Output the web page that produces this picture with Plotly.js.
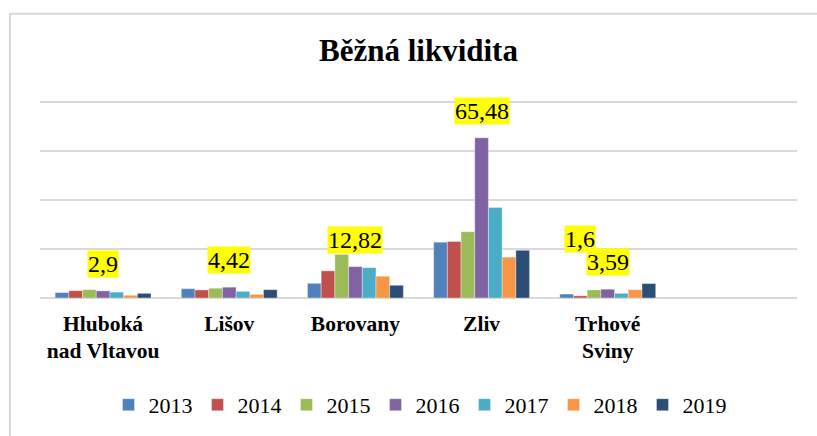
<!DOCTYPE html>
<html>
<head>
<meta charset="utf-8">
<script src="https://cdn.plot.ly/plotly-3.0.1.min.js"></script>
<style>
html,body{margin:0;padding:0;background:#fff;}
#chart{width:817px;height:436px;}
</style>
</head>
<body>
<div id="chart"></div>
<script>
const categories = ["Hluboká<br>nad Vltavou", "Lišov", "Borovany", "Zliv", "Trhové<br>Sviny"];
const years = ["2013", "2014", "2015", "2016", "2017", "2018", "2019"];
const v2013 = [2.2, 3.8, 6.0, 22.8, 1.6];
const v2014 = [3.0, 3.3, 11.1, 23.1, 0.9];
const v2015 = [3.4, 4.0, 17.8, 27.1, 3.3];
const v2016 = [2.9, 4.42, 12.82, 65.48, 3.59];
const v2017 = [2.4, 2.7, 12.4, 37.0, 1.9];
const v2018 = [1.1, 1.5, 8.9, 16.7, 3.4];
const v2019 = [1.9, 3.4, 5.2, 19.5, 5.9];
const seriesValues = [v2013, v2014, v2015, v2016, v2017, v2018, v2019];
const colors = ["#4F81BD", "#C0504D", "#9BBB59", "#8064A2", "#4BACC6", "#F79646", "#2C4D75"];
// data labels shown in the chart (category index, series index, text)
const labelCategoryIdx = [0, 1, 2, 3, 4, 4];
const labelSeriesIdx = [3, 3, 3, 3, 3, 0];
const labelTexts = ["2,9", "4,42", "12,82", "65,48", "3,59", "1,6"];

const SERIF = '"Liberation Serif", "Times New Roman", serif';

const traces = years.map((y, i) => ({
  type: "bar",
  name: y,
  x: categories,
  y: seriesValues[i],
  marker: {color: colors[i], line: {color: "rgba(255,255,255,0.6)", width: 0.6}},
  hoverinfo: "skip"
}));

const yMax = 80, yTop = 80.5;
const plotLeft = 40, plotRight = 797, plotBottom = 299, gridTop = 102;
const pxPerUnit = (plotBottom - gridTop) / yMax;
const plotTop = plotBottom - yTop * pxPerUnit;
const plotW = plotRight - plotLeft;
const plotH = plotBottom - plotTop;
const groupW = 96;
const barW = groupW / years.length;

const annotations = labelTexts.map((t, k) => {
  const ci = labelCategoryIdx[k], si = labelSeriesIdx[k];
  let xshift = (si - 3) * barW;
  let yshift = 13;
  if (t === "1,6") { xshift = (1 - 3) * barW; yshift = 41; }
  return {
    x: categories[ci], y: seriesValues[si][ci], xref: "x", yref: "y",
    text: t, showarrow: false, yanchor: "bottom", xanchor: "center",
    xshift: xshift, yshift: yshift,
    bgcolor: "#FFFF00", borderpad: 0,
    font: {family: SERIF, size: 24, color: "#000"}
  };
});

annotations.push({
  xref: "paper", yref: "paper", x: (418 - plotLeft) / plotW, y: (plotBottom - 50) / plotH,
  text: "<b>Běžná likvidita</b>", showarrow: false, xanchor: "center", yanchor: "middle",
  font: {family: SERIF, size: 31, color: "#000"}
});

const layout = {
  width: 817, height: 436,
  margin: {l: plotLeft, r: 817 - plotRight, t: plotTop, b: 436 - plotBottom, pad: 0},
  paper_bgcolor: "#fff", plot_bgcolor: "#fff",
  barmode: "group", bargap: 0.24, bargroupgap: 0,
  showlegend: true,
  font: {family: SERIF, color: "#000"},
  legend: {
    orientation: "h", x: (420 - plotLeft) / plotW, xanchor: "center",
    y: (plotBottom - 405) / plotH, yanchor: "middle",
    font: {family: SERIF, size: 22, color: "#000"},
    itemwidth: 30, traceorder: "normal", itemclick: false
  },
  xaxis: {
    type: "category", range: [-0.5, 5.5], showgrid: false, zeroline: false, showline: false,
    ticks: "", tickfont: {family: SERIF, size: 21.5, color: "#000", weight: "bold"},
    ticklabelstandoff: 10,
    tickangle: 0, fixedrange: true
  },
  yaxis: {
    range: [0, yTop], dtick: 20, tick0: 0, showticklabels: false, ticks: "",
    showgrid: true, gridcolor: "#D9D9D9", gridwidth: 1.5,
    zeroline: true, zerolinecolor: "#D9D9D9", zerolinewidth: 1.5, showline: false, fixedrange: true
  },
  annotations: annotations,
  shapes: [{
    type: "rect", xref: "paper", yref: "paper",
    x0: (10 - plotLeft) / plotW, x1: (840 - plotLeft) / plotW,
    y0: (plotBottom - 460) / plotH, y1: (plotBottom - 13) / plotH,
    line: {color: "#D9D9D9", width: 2}, fillcolor: "rgba(0,0,0,0)", layer: "below"
  }]
};

Plotly.newPlot("chart", traces, layout, {staticPlot: true, displayModeBar: false});
</script>
</body>
</html>
